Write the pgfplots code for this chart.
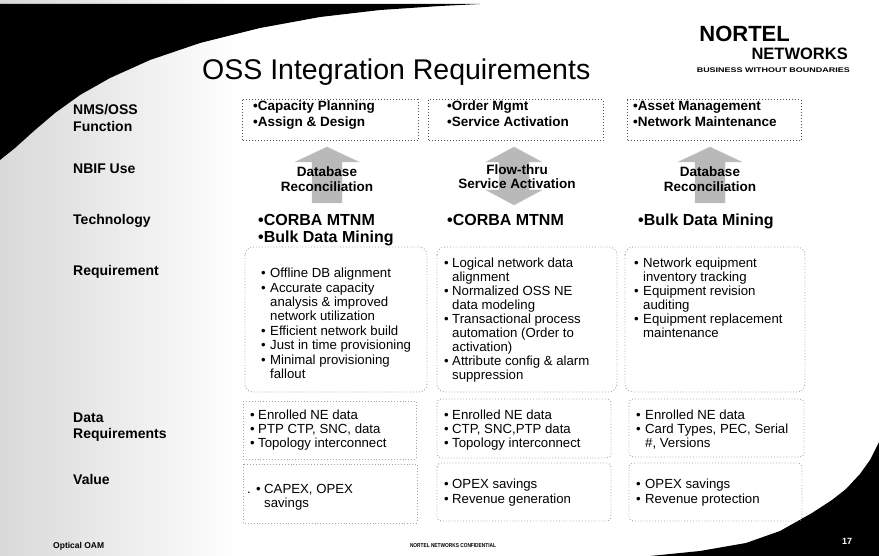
\documentclass[border=0pt]{standalone}
\usepackage{pgfplots}
\pgfplotsset{compat=1.18}
\usepackage{graphicx}
\usepackage{fontspec}
\setmainfont{Liberation Sans}
\newcommand{\fA}{\fontsize{13.2}{14.4}\selectfont}
\newcommand{\fB}{\fontsize{13.5}{16}\selectfont\bfseries}
\newcommand{\fL}{\fontsize{14}{16}\selectfont\bfseries}
\newcommand{\fT}{\fontsize{16}{18}\selectfont\bfseries}
\newcommand{\T}[3]{\node[anchor=base west, inner sep=0pt] at (axis cs:#1,#2) {#3};}
\newcommand{\C}[3]{\node[anchor=base, inner sep=0pt] at (axis cs:#1,#2) {#3};}
\newcommand{\B}[4]{\node[anchor=base west, inner sep=0pt] at (axis cs:#1,#3) {\fA\textbullet};\node[anchor=base west, inner sep=0pt] at (axis cs:#2,#3) {\fA #4};}
\newcommand{\R}[3]{\node[anchor=base west, inner sep=0pt] at (axis cs:#1,#2) {\fA #3};}
\begin{document}
\begin{tikzpicture}
\begin{axis}[width=879pt, height=556pt, scale only axis,
  xmin=0, xmax=879, ymin=0, ymax=556, y dir=reverse,
  axis lines=none, clip=true]
% background
\addplot[fill=white, draw=none] coordinates {(0,0) (879,0) (879,556) (0,556) (0,0)};
\fill[left color=gray!30, right color=white] (axis cs:0,0) rectangle (axis cs:240,556);
% top-left black swoosh
\addplot[fill=black, draw=none] coordinates {
 (0,4) (480,4) (440,6) (380,10) (320,17) (260,28) (200,43) (150,60)
 (110,78) (80,95) (55,113) (35,130) (15,148) (0,160) (0,4)};
% bottom-right black swoosh
\addplot[fill=black, draw=none] coordinates {
 (650,556) (700,551) (746,543) (780,531) (812,513) (832,500) (846,489)
 (860,474) (870,460) (879,442) (879,556) (650,556)};
% title
\T{202}{80}{\fontsize{28.5}{32}\selectfont OSS Integration Requirements}
% logo
\node[anchor=base east, inner sep=0pt] at (axis cs:790,42) {\fontsize{22}{24}\selectfont\bfseries NORTEL};
\node[anchor=base east, inner sep=0pt] at (axis cs:848,60) {\fontsize{16.5}{18}\selectfont\bfseries NETWORKS};
\node[anchor=base east, inner sep=0pt] at (axis cs:850,73) {\resizebox{153pt}{4.7pt}{\bfseries BUSINESS WITHOUT BOUNDARIES}};
% row labels
\T{73}{115}{\fL NMS/OSS}
\T{73}{132}{\fL Function}
\T{73}{174}{\fL NBIF Use}
\T{73}{225}{\fL Technology}
\T{73}{276}{\fL Requirement}
\T{73}{422}{\fL Data}
\T{73}{438}{\fL Requirements}
\T{73}{484}{\fL Value}
% row 1 boxes
\draw[gray!60!black, dotted, line width=1pt] (axis cs:242,100) rectangle (axis cs:418,141);
\draw[gray!60!black, dotted, line width=1pt] (axis cs:428,100) rectangle (axis cs:603,141);
\draw[gray!60!black, dotted, line width=1pt] (axis cs:627,100) rectangle (axis cs:801,141);
\T{253}{111}{\fB\textbullet Capacity Planning}
\T{253}{127}{\fB\textbullet Assign \& Design}
\T{447}{111}{\fB\textbullet Order Mgmt}
\T{447}{127}{\fB\textbullet Service Activation}
\T{633}{111}{\fB\textbullet Asset Management}
\T{633}{127}{\fB\textbullet Network Maintenance}
% arrows
\addplot[fill=gray!55, draw=gray!45] coordinates {(312,203) (312,162) (295,162) (327,147) (359,162) (342,162) (342,203) (312,203)};
\addplot[fill=gray!55, draw=gray!45] coordinates {(499,162) (486,162) (514,147) (542,162) (529,162) (529,190) (542,190) (514,205) (486,190) (499,190) (499,162)};
\addplot[fill=gray!55, draw=gray!45] coordinates {(695,203) (695,162) (678,162) (710,147) (742,162) (725,162) (725,203) (695,203)};
\C{327}{177}{\fB Database}
\C{327}{192}{\fB Reconciliation}
\C{517}{175}{\fB Flow-thru}
\C{517}{189}{\fB Service Activation}
\C{710}{177}{\fB Database}
\C{710}{192}{\fB Reconciliation}
% technology
\T{258}{226}{\fT\textbullet CORBA MTNM}
\T{258}{243}{\fT\textbullet Bulk Data Mining}
\T{447}{226}{\fT\textbullet CORBA MTNM}
\T{638}{226}{\fT\textbullet Bulk Data Mining}
% requirement boxes
\draw[gray!70, dotted, line width=0.9pt, rounded corners=8pt] (axis cs:245,247) rectangle (axis cs:427,392);
\draw[gray!70, dotted, line width=0.9pt, rounded corners=8pt] (axis cs:437,247) rectangle (axis cs:617,392);
\draw[gray!70, dotted, line width=0.9pt, rounded corners=8pt] (axis cs:625,247) rectangle (axis cs:805,392);
\B{261}{270}{277.7}{Offline DB alignment}
\B{261}{270}{292.1}{Accurate capacity}
\R{270}{306.5}{analysis \& improved}
\R{270}{320.9}{network utilization}
\B{261}{270}{335.3}{Efficient network build}
\B{261}{270}{349.7}{Just in time provisioning}
\B{261}{270}{364.1}{Minimal provisioning}
\R{270}{378.5}{fallout}
\B{444}{452}{267.7}{Logical network data}
\R{452}{281.7}{alignment}
\B{444}{452}{295.7}{Normalized OSS NE}
\R{452}{309.7}{data modeling}
\B{444}{452}{323.7}{Transactional process}
\R{452}{337.7}{automation (Order to}
\R{452}{351.7}{activation)}
\B{444}{452}{365.7}{Attribute config \& alarm}
\R{452}{379.7}{suppression}
\B{634}{643}{267.7}{Network equipment}
\R{643}{281.7}{inventory tracking}
\B{634}{643}{295.7}{Equipment revision}
\R{643}{309.7}{auditing}
\B{634}{643}{323.7}{Equipment replacement}
\R{643}{337.7}{maintenance}
% data requirement boxes
\draw[gray!70, dotted, line width=0.9pt] (axis cs:243,401) rectangle (axis cs:416,459);
\draw[gray!70, dotted, line width=0.9pt, rounded corners=4pt] (axis cs:437,399) rectangle (axis cs:611,458);
\draw[gray!70, dotted, line width=0.9pt, rounded corners=4pt] (axis cs:629,399) rectangle (axis cs:804,457);
\B{250}{258}{419.7}{Enrolled NE data}
\B{250}{258}{433.7}{PTP CTP, SNC, data}
\B{250}{258}{447.7}{Topology interconnect}
\B{444}{452}{419.7}{Enrolled NE data}
\B{444}{452}{433.7}{CTP, SNC,PTP data}
\B{444}{452}{447.7}{Topology interconnect}
\B{636}{645}{419.7}{Enrolled NE data}
\B{636}{645}{433.7}{Card Types, PEC, Serial}
\R{645}{447.7}{\#, Versions}
% value boxes
\draw[gray!70, dotted, line width=0.9pt] (axis cs:243,464) rectangle (axis cs:417,523);
\draw[gray!70, dotted, line width=0.9pt, rounded corners=4pt] (axis cs:437,463) rectangle (axis cs:611,521);
\draw[gray!70, dotted, line width=0.9pt, rounded corners=4pt] (axis cs:629,463) rectangle (axis cs:802,521);
\R{247}{493.7}{.}
\B{256}{264}{493.7}{CAPEX, OPEX}
\R{264}{507.7}{savings}
\B{444}{452}{488.7}{OPEX savings}
\B{444}{452}{503.7}{Revenue generation}
\B{636}{645}{488.7}{OPEX savings}
\B{636}{645}{503.7}{Revenue protection}
% footer
\T{53}{548}{\fontsize{8.5}{9}\selectfont\bfseries Optical OAM}
\node[anchor=base, inner sep=0pt] at (axis cs:453,547) {\resizebox{86pt}{4pt}{\bfseries NORTEL NETWORKS CONFIDENTIAL}};
\C{847}{544.5}{\color{white}\fontsize{9}{10}\selectfont\bfseries 17}
\end{axis}
\end{tikzpicture}
\end{document}
